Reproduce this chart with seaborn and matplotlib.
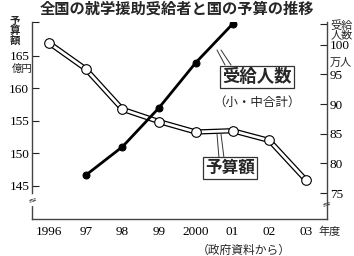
import matplotlib
matplotlib.use("Agg")
import matplotlib.pyplot as plt
import seaborn as sns
import pandas as pd

# ---- data ----
years = [1996, 1997, 1998, 1999, 2000, 2001, 2002, 2003]
year_labels = ["1996", "97", "98", "99", "2000", "01", "02", "03"]
budget = [167.0, 163.0, 156.8, 154.9, 153.3, 153.5, 152.0, 145.9]      # 億円
rec_years = [1997, 1998, 1999, 2000, 2001]
recipients = [78.0, 82.8, 89.4, 97.0, 103.5]                           # 万人
left_ticks = [145, 150, 155, 160, 165]
right_ticks = [75, 80, 85, 90, 95, 100]

sns.set_theme(style="white")
JP = ["Noto Sans CJK JP", "DejaVu Sans"]
NUM = ["Liberation Serif", "DejaVu Serif"]
plt.rcParams["font.family"] = JP

W, H = 354, 256
fig = plt.figure(figsize=(W / 100, H / 100), dpi=100)
L, R, B, T = 32, 327, 219, 22
ax = fig.add_axes([L / W, 1 - B / H, (R - L) / W, (B - T) / H])
ax2 = ax.twinx()

df_b = pd.DataFrame({"year": years, "budget": budget})
df_r = pd.DataFrame({"year": rec_years, "rec": recipients})

# budget: double line with open circles
sns.lineplot(data=df_b, x="year", y="budget", ax=ax, color="black", lw=3.8, zorder=2)
sns.lineplot(data=df_b, x="year", y="budget", ax=ax, color="white", lw=2.0, zorder=3)
sns.scatterplot(data=df_b, x="year", y="budget", ax=ax, s=48, facecolor="white",
                edgecolor="black", linewidth=0.8, zorder=4)

# recipients: solid black line with filled dots
sns.lineplot(data=df_r, x="year", y="rec", ax=ax2, color="black", lw=2.0,
             marker="o", markersize=5, markeredgecolor="black", zorder=5)

ax.set_xlim(1995.537, 2003.572)
ax.set_ylim(139.92, 170.23)
ax2.set_ylim(70.62, 103.84)

for a in (ax, ax2):
    a.set_xlabel("")
    a.set_ylabel("")
    a.spines["top"].set_visible(False)
    for s in a.spines.values():
        s.set_color("#444444")
        s.set_linewidth(1.0)
ax.spines["right"].set_visible(False)
ax2.spines["left"].set_visible(False)
ax2.spines["bottom"].set_visible(False)

ax.set_xticks(years)
ax.set_xticklabels(year_labels, fontfamily=NUM, fontsize=9.5)
ytop = ax.get_ylim()[1]
ax.set_yticks(left_ticks + [ytop])
ax.set_yticklabels([str(v) for v in left_ticks] + [""], fontfamily=NUM, fontsize=9.5)
rtop = ax2.get_ylim()[1]
ax2.set_yticks(right_ticks + [rtop - 0.4])
ax2.set_yticklabels([str(v) for v in right_ticks] + [""], fontfamily=NUM, fontsize=9.5)
ax.tick_params(axis="y", direction="in", length=5, width=0.8, pad=2, colors="#222222")
ax.tick_params(axis="x", direction="in", length=4, width=0.8, pad=5, colors="#222222")
ax2.tick_params(axis="y", direction="in", length=5, width=0.8, pad=2, colors="#222222")
for lab in ax.get_yticklabels() + ax2.get_yticklabels() + ax.get_xticklabels():
    lab.set_color("black")

# break marks on the spines
def pfx(px, py):
    return ((px - L) / (R - L), (B - py) / (B - T))

for px, py in [(33, 200), (327, 204)]:
    ax.text(*pfx(px, py), "≈", transform=ax.transAxes, ha="center", va="center",
            fontsize=8, rotation=20, fontfamily=["DejaVu Sans"],
            bbox=dict(boxstyle="square,pad=0.05", fc="white", ec="none"), zorder=10,
            clip_on=False)

# labels in boxes
ax.text(*pfx(257, 77), "受給人数", transform=ax.transAxes, ha="center", va="center",
        fontsize=12.5, fontweight="bold", zorder=10,
        bbox=dict(boxstyle="square,pad=0.12", fc="white", ec="#333333", lw=0.9))
ax.text(*pfx(257, 102), "（小・中合計）", transform=ax.transAxes, ha="center",
        va="center", fontsize=9, zorder=10)
ax.text(*pfx(230, 168), "予算額", transform=ax.transAxes, ha="center", va="center",
        fontsize=12, fontweight="bold", zorder=10,
        bbox=dict(boxstyle="square,pad=0.12", fc="white", ec="#333333", lw=0.9))

# leader lines
for (x0, y0, x1, y1) in [(217, 50, 225, 65), (221, 50, 231, 65),
                         (217, 134, 219, 158), (221, 134, 224, 158)]:
    ax.plot([pfx(x0, y0)[0], pfx(x1, y1)[0]], [pfx(x0, y0)[1], pfx(x1, y1)[1]],
            transform=ax.transAxes, color="#333333", lw=0.7, clip_on=False, zorder=9)

# axis unit labels
fig.text(15 / W, 1 - 31 / H, "予\n算\n額", ha="center", va="center", fontsize=7.5,
         fontweight="bold", linespacing=0.95)
fig.text(22 / W, 1 - 69 / H, "億円", ha="center", va="center", fontsize=7.5)
fig.text(342 / W, 1 - 30 / H, "受給\n人数", ha="center", va="center", fontsize=8,
         linespacing=0.95)
fig.text(341 / W, 1 - 63 / H, "万人", ha="center", va="center", fontsize=8)
fig.text(330 / W, 1 - 232 / H, "年度", ha="center", va="center", fontsize=8)
fig.text(244 / W, 1 - 250 / H, "（政府資料から）", ha="center", va="center", fontsize=8.5)

fig.text(177 / W, 1 - 9 / H, "全国の就学援助受給者と国の予算の推移", ha="center",
         va="center", fontsize=11, fontweight="bold")

fig.savefig("out.png", dpi=100, facecolor="white")
